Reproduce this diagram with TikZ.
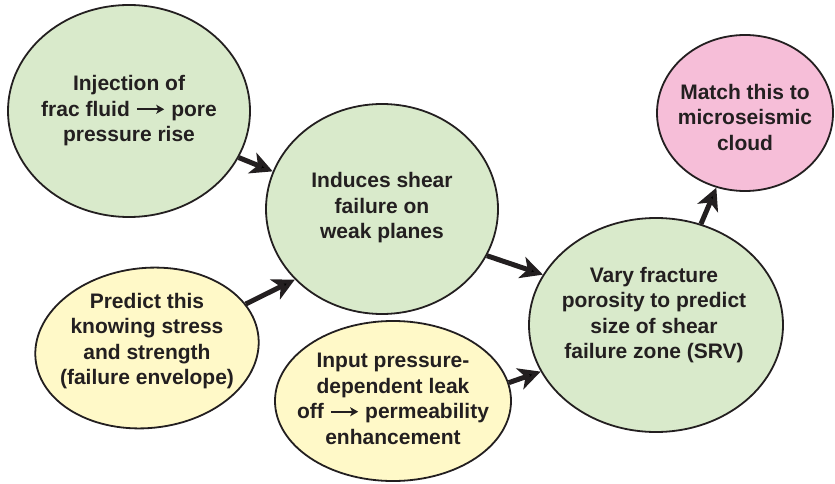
\documentclass[tikz,border=0pt]{standalone}
\usepackage{fontspec}
\setmainfont{Liberation Sans}
\usetikzlibrary{shapes.geometric,arrows.meta}
\definecolor{ink}{HTML}{231F20}
\definecolor{gfill}{RGB}{217,234,203}
\definecolor{yfill}{RGB}{255,249,200}
\definecolor{pfill}{RGB}{246,190,216}
\newcommand{\tarr}{\tikz[baseline=0pt]\draw[ink, line width=2.4pt, -{Stealth[length=8pt,width=9pt,inset=2pt]}] (0pt,0.34em) -- (1.3em,0.34em);}
\tikzset{
  bub/.style={ellipse, draw=ink, line width=1.8pt, inner sep=0pt},
  gbub/.style={bub, fill=gfill},
  ybub/.style={bub, fill=yfill},
  pbub/.style={bub, fill=pfill},
  lab/.style={align=center, text=ink, font=\fontsize{21}{25.5}\selectfont\bfseries, inner sep=0pt},
  conn/.style={draw=ink, line width=5pt, -{Stealth[length=22pt,width=22pt,inset=6pt]}}
}
\begin{document}
\begin{tikzpicture}[x=1pt,y=-1pt]
\useasboundingbox (0,0) rectangle (835,484);
\node[gbub, minimum width=242pt, minimum height=212pt] (e1) at (129,111) {};
\node[gbub, minimum width=232pt, minimum height=210pt] (e2) at (382,209) {};
\node[ybub, minimum width=224pt, minimum height=160pt, rotate=6] (e3) at (147,348) {};
\node[ybub, minimum width=236pt, minimum height=160pt] (e4) at (393,401) {};
\node[gbub, minimum width=254pt, minimum height=214pt] (e5) at (656,325) {};
\node[pbub, minimum width=176pt, minimum height=156pt] (e6) at (745,113) {};

\node[lab] (t1) at (129,111) {Injection of\\frac fluid \tarr{} pore\\pressure rise};
\node[lab] (t2) at (382,208) {Induces shear\\failure on\\weak planes};
\node[lab] (t3) at (147,341) {Predict this\\knowing stress\\and strength\\(failure envelope)};
\node[lab] (t4) at (393,399) {Input pressure-\\dependent leak\\off \tarr{} permeability\\enhancement};
\node[lab] (t5) at (654,315) {Vary fracture\\porosity to predict\\size of shear\\failure zone (SRV)};
\node[lab] (t6) at (745,117) {Match this to\\microseismic\\cloud};

\draw[conn] (e1.-23) -- (e2.161.7);
\draw[conn] (e3.18) -- (e2.-141.8);
\draw[conn] (e2.-24.4) -- (e5.156.3);
\draw[conn] (e4.9) -- (e5.202.4);
\draw[conn] (e5.66.3) -- (e6.-111.3);
\end{tikzpicture}
\end{document}
